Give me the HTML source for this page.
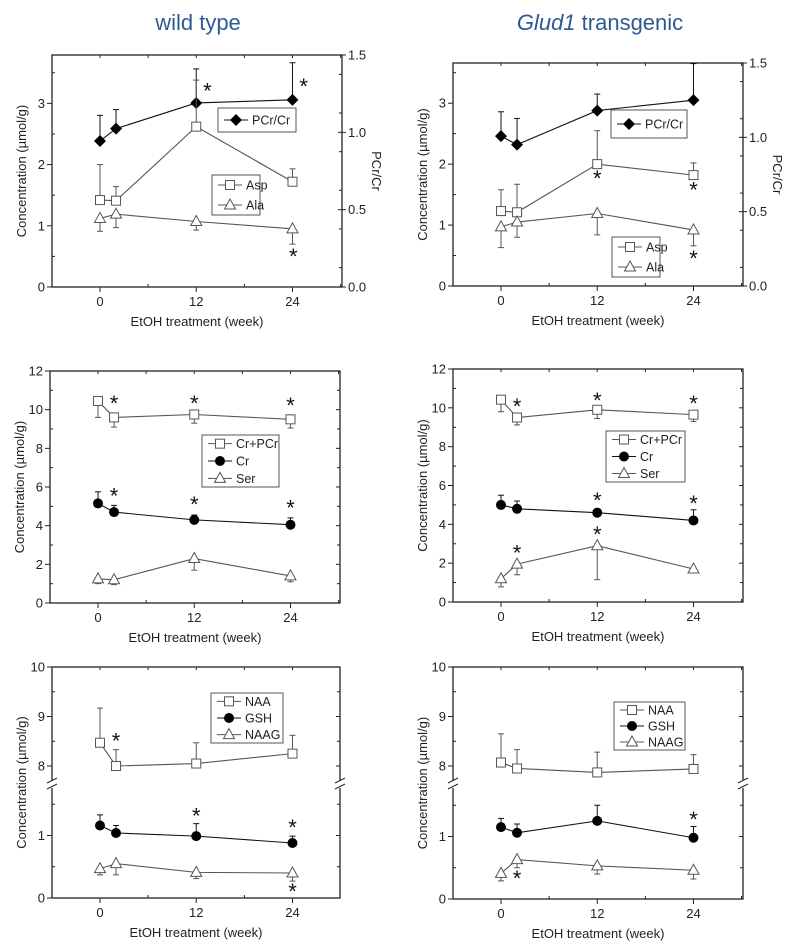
<!DOCTYPE html>
<html><head><meta charset="utf-8">
<style>
html,body{margin:0;padding:0;background:#fff;}
svg{display:block;font-family:"Liberation Sans",Arial,sans-serif;}
</style></head>
<body>
<svg id="fig" width="800" height="949" viewBox="0 0 800 949">
<text x="198" y="30" text-anchor="middle" font-family="Liberation Sans, sans-serif" font-size="22" fill="#2e5a94">wild type</text>
<text x="600" y="30" text-anchor="middle" font-size="22" fill="#2e5a94"><tspan font-style="italic">Glud1</tspan> transgenic</text>
</svg>
<script>
const weeks=[0,2,12,24];
// Top-left (wild type)
const tlPcr=[0.944,1.024,1.19,1.21]; const tlPcrErr=[1.11,1.147,1.41,1.45];
const tlAsp=[1.42,1.41,2.62,1.72]; const tlAspErr=[2.0,1.64,3.38,1.93];
const tlAla=[1.12,1.19,1.07,0.95]; const tlAlaErr=[0.91,0.97,0.93,0.70];
const tlStarX=[13.4,25.4,24.1]; const tlStarY=[3.23,3.30,0.52];
// Top-right (transgenic)
const trPcr=[1.008,0.951,1.18,1.25]; const trPcrErr=[1.172,1.127,1.291,1.496];
const trAsp=[1.23,1.21,2.0,1.82]; const trAspErr=[1.58,1.67,2.55,2.02];
const trAla=[0.97,1.05,1.19,0.92]; const trAlaErr=[0.63,0.80,0.84,0.66];
const trStarX=[12,24,24]; const trStarY=[1.79,1.6,0.48];
// Middle-left
const mlCrPcr=[10.45,9.6,9.75,9.5]; const mlCrPcrErr=[9.6,9.1,9.3,9.05];
const mlCr=[5.15,4.7,4.3,4.05]; const mlCrErr=[5.75,5.05,4.55,4.4];
const mlSer=[1.25,1.2,2.3,1.4]; const mlSerErr=[1.0,0.95,1.7,1.1];
const mlStarX=[2,12,24,2,12,24]; const mlStarY=[10.4,10.4,10.3,5.6,5.17,5.0];
// Middle-right
const mrCrPcr=[10.42,9.5,9.9,9.65]; const mrCrPcrErr=[9.8,9.12,9.45,9.3];
const mrCr=[5.0,4.8,4.6,4.2]; const mrCrErr=[5.5,5.2,4.75,4.75];
const mrSer=[1.2,1.95,2.9,1.7]; const mrSerErr=[0.78,1.4,1.15,1.55];
const mrStarX=[2,12,24,12,24,2,12]; const mrStarY=[10.15,10.45,10.3,5.3,5.15,2.6,3.55];
// Bottom-left
const blNaa=[8.47,8.0,8.05,8.25]; const blNaaErr=[9.17,8.33,8.47,8.62];
const blGsh=[1.16,1.04,0.99,0.88]; const blGshErr=[1.33,1.16,1.19,0.99];
const blNaag=[0.47,0.55,0.41,0.40]; const blNaagErr=[0.37,0.37,0.31,0.27];
const blStarX=[2,12,24,24]; const blStarY=[8.54,1.34,1.15,0.13];
// Bottom-right
const brNaa=[8.07,7.95,7.87,7.94]; const brNaaErr=[8.65,8.33,8.28,8.23];
const brGsh=[1.15,1.06,1.25,0.98]; const brGshErr=[1.29,1.2,1.5,1.16];
const brNaag=[0.41,0.63,0.53,0.46]; const brNaagErr=[0.29,0.5,0.4,0.32];
const brStarX=[24,2]; const brStarY=[1.3,0.35];

const NS='http://www.w3.org/2000/svg';
const svg=document.getElementById('fig');
function mk(tag,at,parent){const e=document.createElementNS(NS,tag);for(const k in at)e.setAttribute(k,at[k]);(parent||svg).appendChild(e);return e;}

function marker(g,type,cx,cy){
  let e;
  if(type==='sq'){e=mk('rect',{x:cx-4.5,y:cy-4.5,width:9,height:9,fill:'#fff',stroke:'#555','stroke-width':1},g);}
  else if(type==='ci'){e=mk('circle',{cx:cx,cy:cy,r:5,fill:'#000'},g);}
  else if(type==='tr'){e=mk('polygon',{points:`${cx},${cy-6} ${cx-5.5},${cy+4} ${cx+5.5},${cy+4}`,fill:'#fff',stroke:'#555','stroke-width':1},g);}
  else {e=mk('polygon',{points:`${cx},${cy-6} ${cx+6},${cy} ${cx},${cy+6} ${cx-6},${cy}`,fill:'#000'},g);}
  
  
  return e;
}

function panel(p){
  const g=mk('g',{});
  
  
  const {x0,x1,y0,y1}=p;
  const X=w=>x0+48+w*8.02;
  // frame
  const fr=mk('rect',{x:x0,y:y0,width:x1-x0,height:y1-y0,fill:'none',stroke:'#222','stroke-width':1.3},g);
  
  
  // x ticks
  for(let w=-6;w<=30;w+=6){const xx=X(w);if(xx<x0+1||xx>x1-1)continue;
    const major=(w%12===0);
    mk('line',{x1:xx,x2:xx,y1:y1,y2:y1+(major?5:-3),stroke:'#222'},g);
    mk('line',{x1:xx,x2:xx,y1:y0,y2:y0+3,stroke:'#222'},g);
    if(major&&w>=0){const t=mk('text',{x:xx,y:y1+19,'text-anchor':'middle','font-size':13,fill:'#222'},g);t.textContent=w;
      
      }
  }
  const xt=mk('text',{x:(x0+x1)/2,y:y1+39,'text-anchor':'middle','font-size':13,fill:'#222'},g);
  xt.textContent='EtOH treatment (week)';
  
  
  const yt=mk('text',{transform:`translate(${x0-26},${(y0+y1)/2}) rotate(-90)`,'text-anchor':'middle','font-size':13,fill:'#222'},g);
  yt.textContent='Concentration (\u00b5mol/g)';
  
  
  // y ticks
  p.yTicks.forEach(v=>{const yy=p.Y(v);
    mk('line',{x1:x0-5,x2:x0,y1:yy,y2:yy,stroke:'#222'},g);
    const t=mk('text',{x:x0-7,y:yy+4.5,'text-anchor':'end','font-size':13,fill:'#222'},g);t.textContent=v;
    
    });
  p.yMinor.forEach(v=>{const yy=p.Y(v);mk('line',{x1:x0,x2:x0+3,y1:yy,y2:yy,stroke:'#222'},g);
    if(!p.R) mk('line',{x1:x1,x2:x1-3,y1:yy,y2:yy,stroke:'#222'},g);});
  if(!p.R) p.yTicks.forEach(v=>{const yy=p.Y(v);mk('line',{x1:x1,x2:x1-4,y1:yy,y2:yy,stroke:'#222'},g);});
  if(p.R){
    [0,0.5,1.0,1.5].forEach(v=>{const yy=p.R(v);
      mk('line',{x1:x1-4,x2:x1+4,y1:yy,y2:yy,stroke:'#222'},g);
      const t=mk('text',{x:x1+6,y:yy+4.5,'font-size':13,fill:'#222'},g);t.textContent=v.toFixed(1);
      
      });
    for(let v=0.125;v<1.5;v+=0.25){const yy=p.R(v);mk('line',{x1:x1-3,x2:x1,y1:yy,y2:yy,stroke:'#222'},g);}
    const rt=mk('text',{transform:`translate(${x1+30},${(y0+y1)/2}) rotate(90)`,'text-anchor':'middle','font-size':13,fill:'#222'},g);
    rt.textContent='PCr/Cr';
    
    
  }
  if(p.breakY){
    [x0,x1].forEach(xx=>{
      mk('rect',{x:xx-3,y:p.breakY-4,width:6,height:8,fill:'#fff'},g);
      mk('line',{x1:xx-5,y1:p.breakY-1,x2:xx+5,y2:p.breakY-6,stroke:'#222'},g);
      mk('line',{x1:xx-5,y1:p.breakY+5,x2:xx+5,y2:p.breakY,stroke:'#222'},g);
    });
  }
  // series
  p.series.forEach(s=>{
    const sg=mk('g',{},g);
    
    
    const Yf=s.right?p.R:p.Y;
    const col=(s.m==='sq'||s.m==='tr')?'#555':'#111';
    s.v.forEach((v,i)=>{const xx=X(weeks[i]);
      const eb=mk('line',{x1:xx,x2:xx,y1:Yf(v),y2:Yf(s.e[i]),stroke:col,'stroke-width':1},sg);
      
      
      mk('line',{x1:xx-3,x2:xx+3,y1:Yf(s.e[i]),y2:Yf(s.e[i]),stroke:col},sg);});
    const pl=mk('polyline',{points:s.v.map((v,i)=>X(weeks[i])+','+Yf(v)).join(' '),fill:'none',stroke:col,'stroke-width':1.1},sg);
    
    
    s.v.forEach((v,i)=>marker(sg,s.m,X(weeks[i]),Yf(v)));
  });
  // stars
  p.sx.forEach((w,i)=>{const t=mk('text',{x:X(w),y:p.Y(p.sy[i])+9,'text-anchor':'middle','font-size':22,fill:'#111'},g);
    t.textContent='*';
    
    });
  // legends
  p.legends.forEach(L=>{
    const lg=mk('g',{},g);
    
    
    mk('rect',{x:L.x,y:L.y,width:L.w,height:L.h,fill:'#fff',stroke:'#555'},lg);
    const n=L.items.length, step=(L.h)/n;
    L.items.forEach((it,k)=>{const cy=L.y+step*(k+0.5);
      const col=(it.m==='sq'||it.m==='tr')?'#555':'#111';
      mk('line',{x1:L.x+6,x2:L.x+30,y1:cy,y2:cy,stroke:col},lg);
      marker(lg,it.m,L.x+18,cy);
      const t=mk('text',{x:L.x+34,y:cy+4.5,'font-size':12.5,fill:'#222'},lg);t.textContent=it.label;
      
      });
  });
}
function lin(y0,y1,max){return v=>y1-(v/max)*(y1-y0);}
function brk(top,bot){return v=>v>4?(667+(10-v)*49.5):(bot-v*62.5);}

panel({name:'panel-wildtype-asp-ala',x0:52,x1:342,y0:55,y1:287,Y:lin(55,287,3.79),R:lin(55,287,1.5),
  yTicks:[0,1,2,3],yMinor:[0.5,1.5,2.5,3.5],
  series:[{label:'PCr/Cr',m:'di',v:tlPcr,e:tlPcrErr,right:true},{label:'Asp',m:'sq',v:tlAsp,e:tlAspErr},{label:'Ala',m:'tr',v:tlAla,e:tlAlaErr}],
  sx:tlStarX,sy:tlStarY,
  legends:[{x:218,y:108,w:78,h:24,items:[{m:'di',label:'PCr/Cr'}]},{x:212,y:175,w:48,h:40,items:[{m:'sq',label:'Asp'},{m:'tr',label:'Ala'}]}]});
panel({name:'panel-transgenic-asp-ala',x0:453,x1:743,y0:63,y1:286,Y:lin(63,286,3.66),R:lin(63,286,1.5),
  yTicks:[0,1,2,3],yMinor:[0.5,1.5,2.5,3.5],
  series:[{label:'PCr/Cr',m:'di',v:trPcr,e:trPcrErr,right:true},{label:'Asp',m:'sq',v:trAsp,e:trAspErr},{label:'Ala',m:'tr',v:trAla,e:trAlaErr}],
  sx:trStarX,sy:trStarY,
  legends:[{x:611,y:110,w:76,h:28,items:[{m:'di',label:'PCr/Cr'}]},{x:612,y:237,w:48,h:40,items:[{m:'sq',label:'Asp'},{m:'tr',label:'Ala'}]}]});
panel({name:'panel-wildtype-creatine',x0:50,x1:340,y0:371,y1:603,Y:lin(371,603,12),
  yTicks:[0,2,4,6,8,10,12],yMinor:[1,3,5,7,9,11],
  series:[{label:'Cr+PCr',m:'sq',v:mlCrPcr,e:mlCrPcrErr},{label:'Cr',m:'ci',v:mlCr,e:mlCrErr},{label:'Ser',m:'tr',v:mlSer,e:mlSerErr}],
  sx:mlStarX,sy:mlStarY,
  legends:[{x:202,y:435,w:77,h:52,items:[{m:'sq',label:'Cr+PCr'},{m:'ci',label:'Cr'},{m:'tr',label:'Ser'}]}]});
panel({name:'panel-transgenic-creatine',x0:453,x1:743,y0:369,y1:602,Y:lin(369,602,12),
  yTicks:[0,2,4,6,8,10,12],yMinor:[1,3,5,7,9,11],
  series:[{label:'Cr+PCr',m:'sq',v:mrCrPcr,e:mrCrPcrErr},{label:'Cr',m:'ci',v:mrCr,e:mrCrErr},{label:'Ser',m:'tr',v:mrSer,e:mrSerErr}],
  sx:mrStarX,sy:mrStarY,
  legends:[{x:606,y:431,w:79,h:51,items:[{m:'sq',label:'Cr+PCr'},{m:'ci',label:'Cr'},{m:'tr',label:'Ser'}]}]});
panel({name:'panel-wildtype-naa',x0:52,x1:340,y0:667,y1:898,Y:brk(667,898),breakY:784,
  yTicks:[0,1,8,9,10],yMinor:[0.5,1.5,8.5,9.5],
  series:[{label:'NAA',m:'sq',v:blNaa,e:blNaaErr},{label:'GSH',m:'ci',v:blGsh,e:blGshErr},{label:'NAAG',m:'tr',v:blNaag,e:blNaagErr}],
  sx:blStarX,sy:blStarY,
  legends:[{x:211,y:693,w:72,h:50,items:[{m:'sq',label:'NAA'},{m:'ci',label:'GSH'},{m:'tr',label:'NAAG'}]}]});
panel({name:'panel-transgenic-naa',x0:453,x1:743,y0:667,y1:899,Y:brk(667,899),breakY:784,
  yTicks:[0,1,8,9,10],yMinor:[0.5,1.5,8.5,9.5],
  series:[{label:'NAA',m:'sq',v:brNaa,e:brNaaErr},{label:'GSH',m:'ci',v:brGsh,e:brGshErr},{label:'NAAG',m:'tr',v:brNaag,e:brNaagErr}],
  sx:brStarX,sy:brStarY,
  legends:[{x:614,y:702,w:71,h:48,items:[{m:'sq',label:'NAA'},{m:'ci',label:'GSH'},{m:'tr',label:'NAAG'}]}]});
</script>
</body></html>
